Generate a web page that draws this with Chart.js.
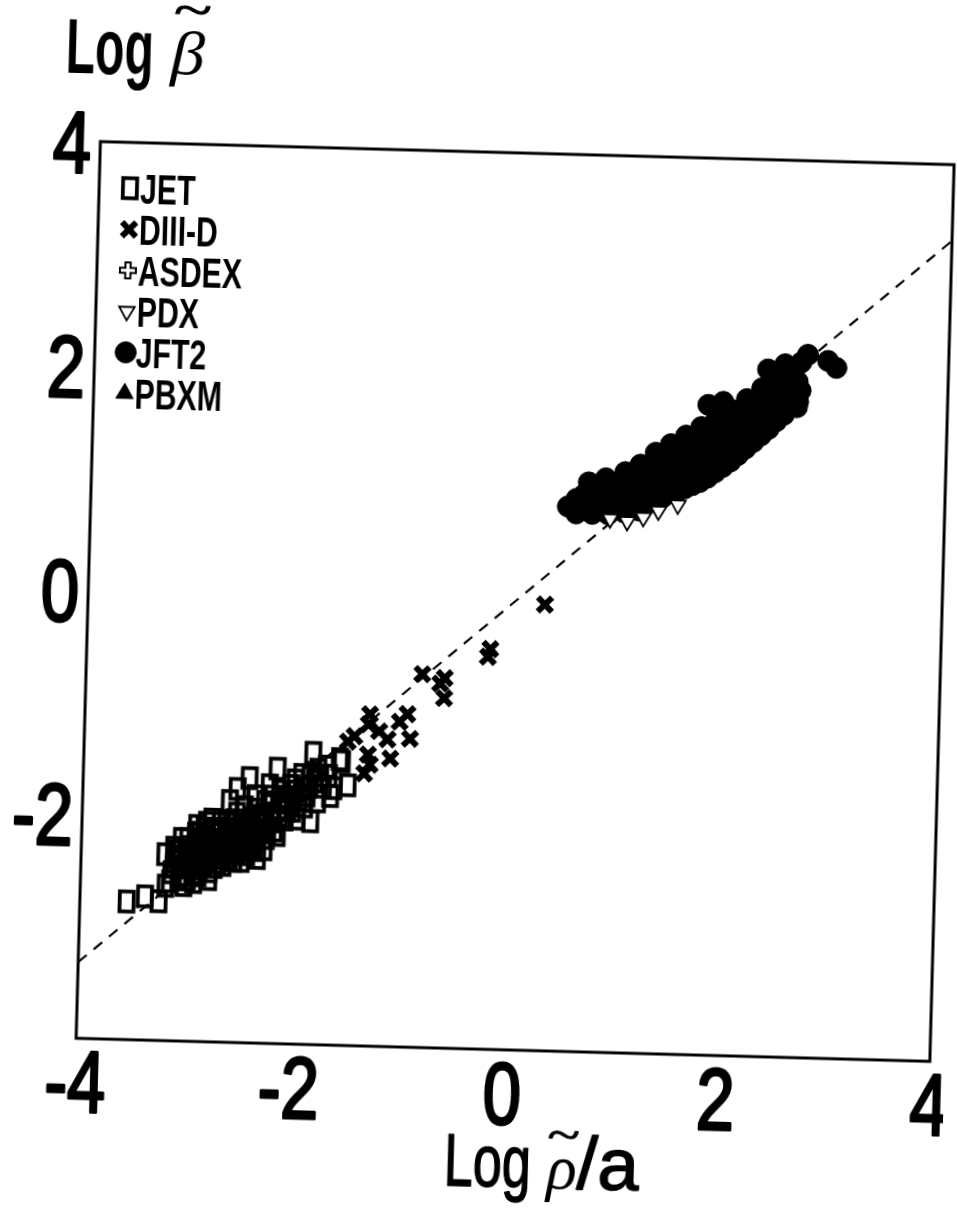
<!DOCTYPE html>
<html>
<head>
<meta charset="utf-8">
<title>Log beta vs Log rho/a</title>
<script src="https://cdn.jsdelivr.net/npm/chart.js@4.4.1/dist/chart.umd.min.js"></script>
<style>
  html, body { margin: 0; padding: 0; background: #fff; overflow: hidden; }
  #sheet {
    position: absolute; left: 0; top: 0; width: 957px; height: 1210px;
    transform: rotate(1.55deg); transform-origin: 478.5px 605px;
  }
</style>
</head>
<body>
<div id="sheet"><canvas id="plot" width="957" height="1210"></canvas></div>
<script>
// ---- data (log-log, dimensionless) ----
const xTicks = [-4, -2, 0, 2, 4];
const yTicks = [-2, 0, 2, 4];

const jetX = [-3.56,-3.39,-3.26,-3.21,-3.20,-3.15,-3.12,-3.10,-3.08,-3.05,-3.03,-3.02,-3.00,-2.98,-2.97,-2.95,-2.94,-2.93,-2.92,-2.90,-2.90,-2.88,-2.86,-2.85,-2.83,-2.82,-2.80,-2.80,-2.78,-2.77,-2.75,-2.74,-2.72,-2.70,-2.70,-2.68,-2.67,-2.65,-2.64,-2.63,-2.62,-2.60,-2.60,-2.58,-2.57,-2.55,-2.55,-2.55,-2.53,-2.52,-2.50,-2.50,-2.48,-2.47,-2.45,-2.44,-2.42,-2.40,-2.38,-2.38,-2.35,-2.35,-2.33,-2.30,-2.29,-2.27,-2.25,-2.22,-2.20,-2.18,-2.17,-2.15,-2.12,-2.10,-2.08,-2.05,-2.03,-2.00,-1.99,-1.97,-1.95,-1.92,-1.90,-1.88,-1.86,-1.85,-1.83,-1.80,-1.78,-1.75,-1.72,-1.70,-1.68,-1.65,-1.60,-1.58,-1.52,
  -3.13,-3.13,-3.06,-3.06,-3.06,-2.99,-2.99,-2.92,-2.92,-2.85,-2.85,-2.85,-2.78,-2.78,-2.71,-2.71,-2.71,-2.64,-2.64,-2.57,-2.57,-2.50,-2.50,-2.43,-2.43,-2.36,-2.36,-2.29,-2.29,-2.22,-2.22,-2.15,-2.15,-2.08,-2.01,-1.94,-1.87,-1.80,
  -3.09,-3.02,-2.96,-2.89,-2.89,-2.82,-2.82,-2.75,-2.75,-2.68,-2.61,-2.61,-2.54,-2.47,-2.40,-2.33,-2.26,-3.16,-3.00,-2.80];
const jetY = [-2.77,-2.72,-2.76,-2.34,-2.62,-2.50,-2.40,-2.31,-2.55,-2.45,-2.61,-2.30,-2.20,-2.35,-2.42,-2.50,-2.58,-2.15,-2.08,-2.28,-2.52,-2.42,-2.30,-2.18,-2.05,-2.33,-2.48,-2.40,-2.12,-2.20,-2.25,-2.33,-2.40,-2.05,-2.15,-2.20,-2.42,-2.32,-2.03,-2.25,-1.85,-2.15,-2.05,-2.28,-2.38,-1.96,-1.74,-2.10,-2.15,-2.22,-2.38,-2.02,-1.90,-2.25,-2.32,-1.64,-2.12,-2.00,-1.80,-2.28,-2.15,-2.35,-2.05,-1.96,-2.27,-2.17,-1.70,-1.95,-2.10,-1.55,-2.14,-1.90,-1.85,-2.00,-1.80,-1.70,-1.92,-1.75,-1.99,-1.82,-1.60,-1.88,-1.78,-1.70,-2.01,-1.40,-1.65,-1.83,-1.60,-1.70,-1.52,-1.60,-1.78,-1.71,-1.45,-1.47,-1.68,
  -2.28,-2.45,-2.20,-2.36,-2.52,-2.27,-2.45,-2.20,-2.36,-2.10,-2.26,-2.42,-2.30,-2.02,-2.10,-2.26,-2.36,-2.14,-2.30,-2.02,-2.20,-2.10,-2.28,-2.05,-2.20,-1.92,-2.10,-1.85,-2.05,-1.80,-2.02,-1.75,-1.98,-1.92,-1.65,-1.72,-1.62,-1.55,
  -2.36,-2.40,-2.31,-2.14,-2.46,-2.20,-2.37,-2.12,-2.44,-2.30,-2.20,-2.36,-2.30,-2.15,-2.25,-2.00,-2.12,-2.58,-2.56,-2.55];

const d3dX = [0.28,-0.22,-0.24,-0.64,-0.68,-0.64,-0.85,-0.98,-1.05,-1.33,-1.34,-1.47,-1.24,-1.16,-0.95,-1.34,-1.13,-1.32,-1.37,-1.53];
const d3dY = [-0.02,-0.43,-0.50,-0.70,-0.75,-0.88,-0.67,-1.03,-1.10,-1.04,-1.13,-1.24,-1.19,-1.26,-1.25,-1.40,-1.43,-1.49,-1.57,-1.29];

const asdexX = [1.00,1.35,1.62,1.90,2.20,2.50];
const asdexY = [1.00,1.18,1.30,1.50,1.60,1.95];

const pdxX = [0.87,1.03,1.18,1.32,1.50];
const pdxY = [0.76,0.74,0.78,0.84,0.90];

const jft2X = [0.47,0.55,0.55,0.62,0.62,0.70,0.70,0.70,0.78,0.78,0.85,0.85,0.85,0.92,0.92,1.00,1.00,1.00,1.07,1.07,1.07,1.14,1.14,1.14,1.21,1.21,1.21,1.28,1.28,1.28,1.35,1.35,1.35,1.42,1.42,1.42,1.49,1.49,1.49,1.56,1.56,1.56,1.63,1.63,1.63,1.70,1.70,1.70,1.76,1.77,1.77,1.77,1.84,1.84,1.84,1.90,1.91,1.91,1.91,1.98,1.98,1.98,2.05,2.05,2.05,2.12,2.12,2.12,2.19,2.19,2.19,2.26,2.26,2.26,2.31,2.33,2.33,2.33,2.40,2.40,2.40,2.47,2.47,2.47,2.53,2.53,2.59,2.62,2.68,2.87,2.95,
  0.66,0.82,1.00,1.14,1.28,1.42,1.56,1.70,1.84,1.98,2.12,2.26,2.40,2.45,2.53,2.55,2.59,2.62,2.60];
const jft2Y = [0.86,0.80,0.93,0.84,0.97,0.80,0.92,1.02,0.84,0.97,0.80,0.92,1.04,0.86,0.99,0.82,0.94,1.08,0.88,1.00,1.14,0.84,0.97,1.12,0.90,1.03,1.18,0.93,1.08,1.24,0.96,1.12,1.28,1.00,1.16,1.32,1.02,1.19,1.36,1.05,1.22,1.40,1.08,1.26,1.44,1.11,1.30,1.48,1.80,1.15,1.34,1.52,1.20,1.38,1.56,1.83,1.25,1.43,1.60,1.30,1.48,1.64,1.36,1.53,1.70,1.42,1.58,1.75,1.48,1.64,1.80,1.54,1.70,1.86,2.13,1.60,1.77,1.93,1.67,1.84,1.98,1.73,1.90,2.18,1.82,2.05,2.03,2.20,2.27,2.22,2.16,
  1.08,1.12,1.18,1.25,1.36,1.44,1.52,1.60,1.68,1.76,1.86,1.96,2.08,2.05,1.92,2.15,1.80,1.95,1.85];

const pbxmX = [0.70,0.90,1.05,1.15,1.25,1.40,1.55,1.68,1.82,1.95,2.10,2.25];
const pbxmY = [0.90,1.02,1.12,1.05,1.15,1.20,1.25,1.35,1.45,1.55,1.65,1.72];

// fitted scaling line
const fitX = [-4, 4];
const fitY = [-3.32, 3.32];

// ---- styling ----
const SANS = '"Liberation Sans", Arimo, Arial, sans-serif';
const SERIF = '"Liberation Serif", "DejaVu Serif", serif';
const INK = '#000';

function pts(xs, ys) { return xs.map((x, i) => ({ x, y: ys[i] })); }

// open box marker, a little taller than wide
function boxGlyph(w, h, lw) {
  const c = document.createElement('canvas');
  c.width = Math.ceil(w + lw * 2); c.height = Math.ceil(h + lw * 2);
  const g = c.getContext('2d');
  g.lineWidth = lw; g.strokeStyle = INK;
  g.strokeRect(lw, lw, w, h);
  return c;
}
// outlined plus marker
function plusGlyph(arm, half, lw) {
  const s = Math.ceil(arm * 2 + lw * 2 + 2);
  const c = document.createElement('canvas');
  c.width = s; c.height = s;
  const g = c.getContext('2d');
  const m = s / 2;
  g.lineWidth = lw; g.strokeStyle = INK; g.fillStyle = '#fff';
  g.beginPath();
  g.moveTo(m - half, m - arm); g.lineTo(m + half, m - arm); g.lineTo(m + half, m - half);
  g.lineTo(m + arm, m - half); g.lineTo(m + arm, m + half); g.lineTo(m + half, m + half);
  g.lineTo(m + half, m + arm); g.lineTo(m - half, m + arm); g.lineTo(m - half, m + half);
  g.lineTo(m - arm, m + half); g.lineTo(m - arm, m - half); g.lineTo(m - half, m - half);
  g.closePath(); g.fill(); g.stroke();
  return c;
}

const jetGlyph = boxGlyph(14, 20, 3.8);
const asdexGlyph = plusGlyph(8, 2.6, 2);

const datasets = [
  { label: 'JET', data: pts(jetX, jetY), pointStyle: jetGlyph, pointRadius: 10,
    borderColor: INK, backgroundColor: 'rgba(0,0,0,0)', borderWidth: 3, order: 5 },
  { label: 'DIII-D', data: pts(d3dX, d3dY), pointStyle: 'crossRot', pointRadius: 10,
    borderColor: INK, backgroundColor: INK, borderWidth: 6, order: 4 },
  { label: 'ASDEX', data: pts(asdexX, asdexY), pointStyle: asdexGlyph, pointRadius: 9,
    borderColor: INK, backgroundColor: '#fff', borderWidth: 2, order: 3 },
  { label: 'PDX', data: pts(pdxX, pdxY), pointStyle: 'triangle', pointRotation: 180, pointRadius: 9,
    borderColor: INK, backgroundColor: '#fff', borderWidth: 1.8, order: 0 },
  { label: 'JFT2', data: pts(jft2X, jft2Y), pointStyle: 'circle', pointRadius: 10.5,
    borderColor: INK, backgroundColor: INK, borderWidth: 1, order: 1 },
  { label: 'PBXM', data: pts(pbxmX, pbxmY), pointStyle: 'triangle', pointRadius: 10,
    borderColor: INK, backgroundColor: INK, borderWidth: 1, order: 2 },
  { type: 'line', label: 'fit', data: pts(fitX, fitY), borderColor: INK, borderWidth: 2.2,
    borderDash: [11, 9], pointRadius: 0, fill: false, tension: 0, order: 6 }
];

// draws `str` squeezed horizontally by factor sx, optionally thickened by an outline
function squeezedText(ctx, str, x, y, font, sx, align, thicken) {
  ctx.save();
  ctx.font = font;
  const w = ctx.measureText(str).width * sx;
  let left = x;
  if (align === 'center') left = x - w / 2;
  else if (align === 'right') left = x - w;
  ctx.translate(left, y);
  ctx.scale(sx, 1);
  ctx.textAlign = 'left';
  ctx.fillText(str, 0, 0);
  if (thicken) {
    ctx.lineJoin = 'round';
    ctx.lineWidth = thicken;
    ctx.strokeStyle = ctx.fillStyle;
    ctx.strokeText(str, 0, 0);
  }
  ctx.restore();
  return w;
}
// same, squeezed to a given width
function fitText(ctx, str, x, y, font, targetW, thicken) {
  ctx.save(); ctx.font = font;
  const sx = targetW / ctx.measureText(str).width;
  ctx.restore();
  return squeezedText(ctx, str, x, y, font, sx, 'left', thicken);
}

function drawMarker(ctx, ds, x, y) {
  const opts = {
    pointStyle: ds.pointStyle, radius: ds.pointRadius,
    rotation: ds.pointRotation || 0, borderWidth: ds.borderWidth
  };
  ctx.save();
  ctx.fillStyle = ds.backgroundColor;
  ctx.strokeStyle = ds.borderColor;
  ctx.lineWidth = ds.borderWidth;
  if (Chart.helpers && Chart.helpers.drawPoint) {
    Chart.helpers.drawPoint(ctx, opts, x, y);
  } else {
    const el = new Chart.PointElement({ x, y, options: Object.assign({ borderColor: ds.borderColor, backgroundColor: ds.backgroundColor }, opts) });
    el.draw(ctx);
  }
  ctx.restore();
}

const TICK_SIZE = 88;
const TICK_FONT = TICK_SIZE + 'px ' + SANS;
const TICK_SQUEEZE = 0.78;
const CAP = 0.716 * TICK_SIZE;

const decorations = {
  id: 'decorations',
  beforeDatasetsDraw(chart) {
    const { ctx, chartArea: a } = chart;
    ctx.save();
    ctx.strokeStyle = INK;
    ctx.lineWidth = 3;
    ctx.strokeRect(a.left, a.top, a.right - a.left, a.bottom - a.top);
    ctx.restore();
  },
  afterDraw(chart) {
    const { ctx, chartArea: a } = chart;
    const xs = chart.scales.x, ys = chart.scales.y;
    ctx.save();
    ctx.fillStyle = INK;
    ctx.textBaseline = 'alphabetic';

    // tick numbers, placed from the scales
    xTicks.forEach(v => {
      squeezedText(ctx, String(v), xs.getPixelForValue(v), a.bottom + 74, TICK_FONT, TICK_SQUEEZE, 'center', 3);
    });
    yTicks.forEach(v => {
      squeezedText(ctx, String(v), a.left - 9, ys.getPixelForValue(v) + CAP / 2, TICK_FONT, TICK_SQUEEZE, 'right', 3);
    });

    // vertical quantity, written horizontally above the axis
    let x0 = 51, base = 84;
    fitText(ctx, 'Log', x0, base, 'bold 78px ' + SANS, 88);
    fitText(ctx, '\u03B2', 156, base - 2, 'italic 62px ' + SERIF, 34);
    fitText(ctx, '~', 158, base - 50, '48px ' + SERIF, 38, 1);

    // horizontal quantity, under the axis
    x0 = 459; base = 1186;
    const wLog = fitText(ctx, 'Log', x0, base, '74px ' + SANS, 87, 1.5);
    fitText(ctx, '\u03C1', x0 + wLog + 16, base, 'italic 64px ' + SERIF, 30);
    fitText(ctx, '~', x0 + wLog + 16, base - 40, '42px ' + SERIF, 32, 1);
    fitText(ctx, '/a', x0 + wLog + 46, base, '74px ' + SANS, 62, 1.5);

    // key, inside the upper-left corner of the frame
    const series = chart.data.datasets.filter(d => d.label !== 'fit');
    const keyFont = 'bold 42px ' + SANS;
    series.forEach((ds, i) => {
      const cy = a.top + 46 + i * 41;
      drawMarker(ctx, ds, a.left + 31, cy);
      ctx.fillStyle = INK;
      squeezedText(ctx, ds.label, a.left + 41, cy + 15, keyFont, 0.72, 'left');
    });
    ctx.restore();
  }
};

new Chart(document.getElementById('plot'), {
  type: 'scatter',
  data: { datasets },
  options: {
    responsive: false,
    animation: false,
    devicePixelRatio: 1,
    layout: { autoPadding: false, padding: { top: 152, right: 15, left: 0, bottom: 0 } },
    plugins: { legend: { display: false }, title: { display: false }, tooltip: { enabled: false } },
    scales: {
      x: {
        type: 'linear', position: 'bottom', min: -4, max: 4,
        afterBuildTicks: s => { s.ticks = xTicks.map(v => ({ value: v })); },
        afterFit: s => { s.height = 161; },
        grid: { display: false, drawTicks: false },
        border: { display: false },
        ticks: { display: false }
      },
      y: {
        type: 'linear', position: 'left', min: -4, max: 4,
        afterBuildTicks: s => { s.ticks = yTicks.map(v => ({ value: v })); },
        afterFit: s => { s.width = 88; },
        grid: { display: false, drawTicks: false },
        border: { display: false },
        ticks: { display: false }
      }
    }
  },
  plugins: [decorations]
});
</script>
</body>
</html>
